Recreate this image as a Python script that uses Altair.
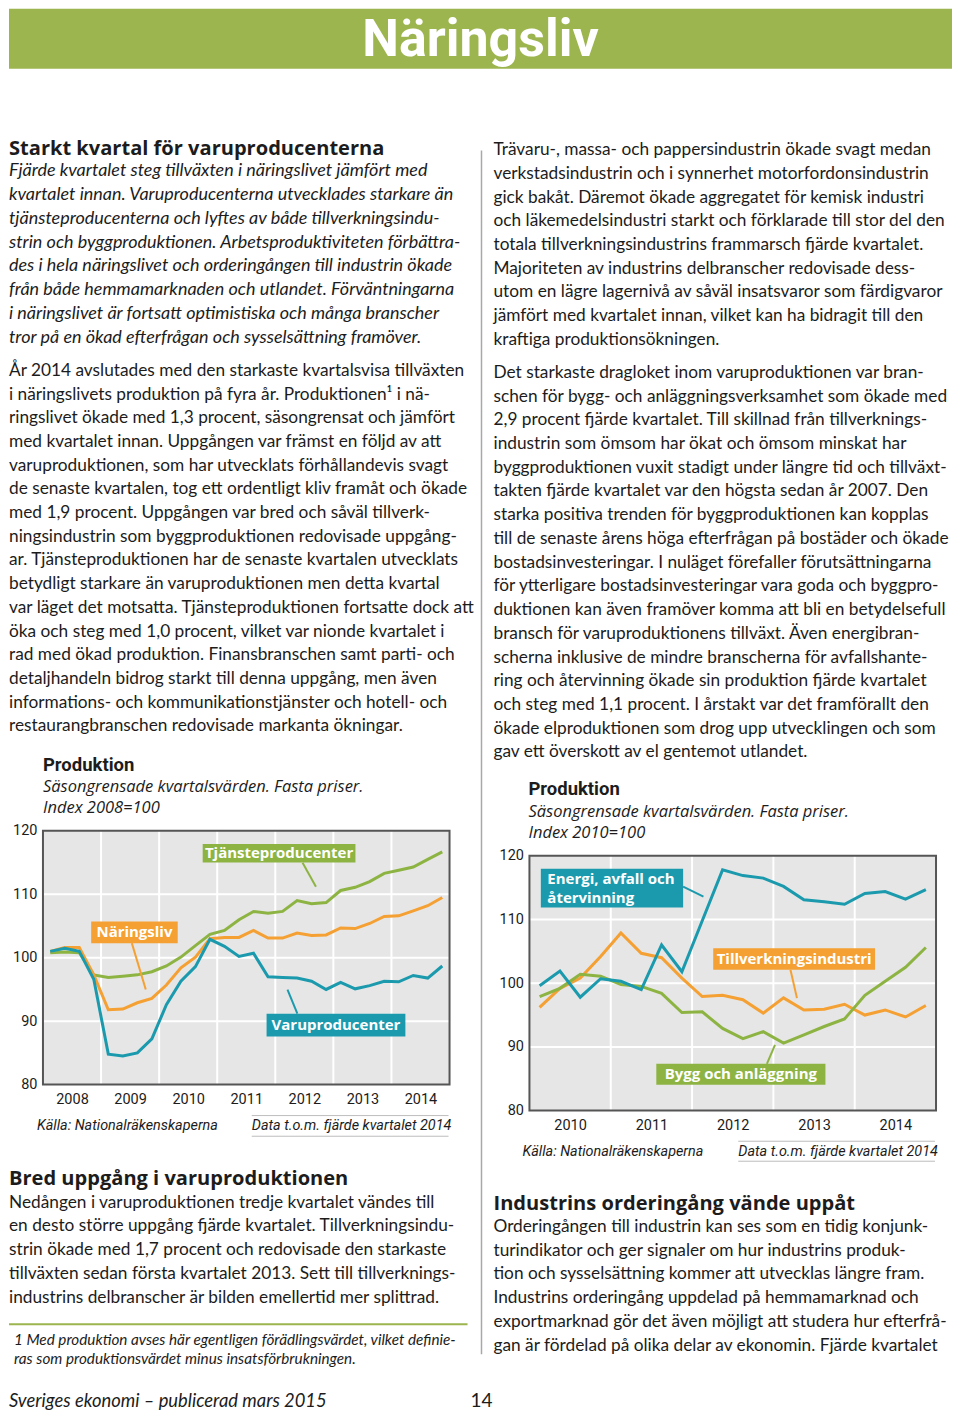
import altair as alt
import pandas as pd

# ---------------- data ----------------
years_a = [2008, 2009, 2010, 2011, 2012, 2013, 2014]
years_b = [2010, 2011, 2012, 2013, 2014]
quarters = [1, 2, 3, 4]
index_ticks = [80, 90, 100, 110, 120]

# Chart 1: Index 2008=100, quarterly 2008K1-2014K4
varuproducenter = [101.0, 101.5, 101.0, 96.6, 84.8, 84.5, 85.0, 87.2, 92.6, 96.3, 98.6, 102.9,
                   101.8, 100.2, 100.7, 97.0, 96.9, 96.8, 96.3, 95.0, 96.1, 95.1, 95.6, 96.3,
                   96.2, 97.2, 96.8, 98.7]
naringsliv = [101.0, 101.6, 101.6, 97.3, 91.8, 91.9, 92.9, 93.6, 95.7, 98.4, 100.1, 103.0,
              103.2, 103.2, 104.3, 103.1, 103.1, 103.9, 103.5, 103.6, 104.7, 104.6, 105.4, 106.5,
              106.6, 107.4, 108.2, 109.5]
tjansteproducenter = [100.8, 100.9, 100.8, 97.3, 96.9, 97.1, 97.3, 97.8, 98.7, 100.1, 101.9, 103.7,
                      104.3, 106.0, 107.3, 107.0, 107.3, 109.0, 108.5, 108.7, 110.6, 111.1, 112.0, 113.3,
                      113.8, 114.3, 115.5, 116.7]

# Chart 2: Index 2010=100, quarterly 2010K1-2014K4
energi = [99.6, 101.9, 97.8, 100.7, 100.3, 99.0, 106.0, 101.8, 109.8, 117.8, 116.9, 116.5,
          115.2, 113.1, 112.8, 112.4, 114.1, 114.4, 113.2, 114.7]
tillverkning = [96.2, 99.2, 100.8, 104.2, 107.9, 104.7, 104.0, 100.8, 97.9, 98.1, 97.4, 95.3,
                97.7, 95.8, 95.9, 96.7, 95.0, 95.8, 94.7, 96.5]
bygg = [97.9, 99.2, 101.4, 101.1, 99.8, 99.5, 98.4, 95.4, 95.5, 92.9, 91.3, 92.4,
        90.6, 91.9, 93.2, 94.4, 98.1, 100.3, 102.5, 105.6]

# ---------------- texts ----------------
page_title = "Näringsliv"
heading_1 = "Starkt kvartal för varuproducenterna"
intro_lines = [
    "Fjärde kvartalet steg tillväxten i näringslivet jämfört med",
    "kvartalet innan. Varuproducenterna utvecklades starkare än",
    "tjänsteproducenterna och lyftes av både tillverkningsindu-",
    "strin och byggproduktionen. Arbetsproduktiviteten förbättra-",
    "des i hela näringslivet och orderingången till industrin ökade",
    "från både hemmamarknaden och utlandet. Förväntningarna",
    "i näringslivet är fortsatt optimistiska och många branscher",
    "tror på en ökad efterfrågan och sysselsättning framöver.",
]
body_left_1 = [
    "År 2014 avslutades med den starkaste kvartalsvisa tillväxten",
    "i näringslivets produktion på fyra år. Produktionen¹ i nä-",
    "ringslivet ökade med 1,3 procent, säsongrensat och jämfört",
    "med kvartalet innan. Uppgången var främst en följd av att",
    "varuproduktionen, som har utvecklats förhållandevis svagt",
    "de senaste kvartalen, tog ett ordentligt kliv framåt och ökade",
    "med 1,9 procent. Uppgången var bred och såväl tillverk-",
    "ningsindustrin som byggproduktionen redovisade uppgång-",
    "ar. Tjänsteproduktionen har de senaste kvartalen utvecklats",
    "betydligt starkare än varuproduktionen men detta kvartal",
    "var läget det motsatta. Tjänsteproduktionen fortsatte dock att",
    "öka och steg med 1,0 procent, vilket var nionde kvartalet i",
    "rad med ökad produktion. Finansbranschen samt parti- och",
    "detaljhandeln bidrog starkt till denna uppgång, men även",
    "informations- och kommunikationstjänster och hotell- och",
    "restaurangbranschen redovisade markanta ökningar.",
]
heading_2 = "Bred uppgång i varuproduktionen"
body_left_2 = [
    "Nedången i varuproduktionen tredje kvartalet vändes till",
    "en desto större uppgång fjärde kvartalet. Tillverkningsindu-",
    "strin ökade med 1,7 procent och redovisade den starkaste",
    "tillväxten sedan första kvartalet 2013. Sett till tillverknings-",
    "industrins delbranscher är bilden emellertid mer splittrad.",
]
footnote_lines = [
    "1  Med produktion avses här egentligen förädlingsvärdet, vilket definie-",
    "ras som produktionsvärdet minus insatsförbrukningen.",
]
footer_left = "Sveriges ekonomi – publicerad mars 2015"
footer_page = "14"
body_right_1 = [
    "Trävaru-, massa- och pappersindustrin ökade svagt medan",
    "verkstadsindustrin och i synnerhet motorfordonsindustrin",
    "gick bakåt. Däremot ökade aggregatet för kemisk industri",
    "och läkemedelsindustri starkt och förklarade till stor del den",
    "totala tillverkningsindustrins frammarsch fjärde kvartalet.",
    "Majoriteten av industrins delbranscher redovisade dess-",
    "utom en lägre lagernivå av såväl insatsvaror som färdigvaror",
    "jämfört med kvartalet innan, vilket kan ha bidragit till den",
    "kraftiga produktionsökningen.",
]
body_right_2 = [
    "Det starkaste dragloket inom varuproduktionen var bran-",
    "schen för bygg- och anläggningsverksamhet som ökade med",
    "2,9 procent fjärde kvartalet. Till skillnad från tillverknings-",
    "industrin som ömsom har ökat och ömsom minskat har",
    "byggproduktionen vuxit stadigt under längre tid och tillväxt-",
    "takten fjärde kvartalet var den högsta sedan år 2007. Den",
    "starka positiva trenden för byggproduktionen kan kopplas",
    "till de senaste årens höga efterfrågan på bostäder och ökade",
    "bostadsinvesteringar. I nuläget förefaller förutsättningarna",
    "för ytterligare bostadsinvesteringar vara goda och byggpro-",
    "duktionen kan även framöver komma att bli en betydelsefull",
    "bransch för varuproduktionens tillväxt. Även energibran-",
    "scherna inklusive de mindre branscherna för avfallshante-",
    "ring och återvinning ökade sin produktion fjärde kvartalet",
    "och steg med 1,1 procent. I årstakt var det framförallt den",
    "ökade elproduktionen som drog upp utvecklingen och som",
    "gav ett överskott av el gentemot utlandet.",
]
heading_3 = "Industrins orderingång vände uppåt"
body_right_3 = [
    "Orderingången till industrin kan ses som en tidig konjunk-",
    "turindikator och ger signaler om hur industrins produk-",
    "tion och sysselsättning kommer att utvecklas längre fram.",
    "Industrins orderingång uppdelad på hemmamarknad och",
    "exportmarknad gör det även möjligt att studera hur efterfrå-",
    "gan är fördelad på olika delar av ekonomin. Fjärde kvartalet",
]
chart_title = "Produktion"
chart1_sub = ["Säsongrensade kvartalsvärden. Fasta priser.", "Index 2008=100"]
chart2_sub = ["Säsongrensade kvartalsvärden. Fasta priser.", "Index 2010=100"]
source_text = "Källa: Nationalräkenskaperna"
data_text = "Data t.o.m. fjärde kvartalet 2014"

# ---------------- style ----------------
TEAL = "#1b9aae"
ORANGE = "#f5a033"
GREEN = "#8db443"
HEAD_GREEN = "#9cb54e"
PLOT_BG = "#e6e6e6"
FRAME = "#555555"
INK = "#1c1c1c"
DIV = "#a8a8a8"
BODY = "Lato"
SANS = "Roboto"
HEAD = "Open Sans"
BODY_SIZE = 17.3
ITAL_SIZE = 18
HEAD_SIZE = 20.1
LH = 23.78
PAGE_W, PAGE_H = 944, 1402

dummy = pd.DataFrame({"a": [0]})


def text_block(lines, x, y, size, font=BODY, weight="normal", style="normal",
               color=INK, lh=LH, align="left"):
    if isinstance(lines, str):
        lines = [lines]
    return alt.Chart(dummy).mark_text(
        text=list(lines), font=font, fontSize=size, fontWeight=weight,
        fontStyle=style, color=color, align=align, baseline="alphabetic",
        lineHeight=lh,
    ).encode(x=alt.value(x), y=alt.value(y))


def rect(x1, x2, y1, y2, color):
    return alt.Chart(dummy).mark_rect(color=color).encode(
        x=alt.value(x1), x2=alt.value(x2), y=alt.value(y1), y2=alt.value(y2))


def rule(x1, x2, y1, y2, color, w=1.0):
    return alt.Chart(dummy).mark_rule(color=color, strokeWidth=w).encode(
        x=alt.value(x1), x2=alt.value(x2), y=alt.value(y1), y2=alt.value(y2))


def line_chart(years, series, notes, xr, yr):
    """xr/yr: pixel extent (left, right) / (top, bottom) of the plot area."""
    x0, x1 = years[0], years[-1] + 1
    y0, y1 = index_ticks[0], index_ticks[-1]
    xs = alt.Scale(domain=[x0, x1], range=[xr[0], xr[1]], nice=False, zero=False)
    ys = alt.Scale(domain=[y0, y1], range=[yr[1], yr[0]], nice=False, zero=False)
    xax = alt.Axis(orient="bottom", offset=yr[1] - PAGE_H,
                   values=[y + 0.5 for y in years], labelExpr="floor(datum.value)",
                   ticks=False, grid=False, domain=False, title=None, labelPadding=8,
                   labelFont=SANS, labelFontSize=14.5, labelColor=INK,
                   labelFlush=False, labelOverlap=False)
    yax = alt.Axis(orient="left", offset=-xr[0], values=index_ticks, grid=False,
                   ticks=False, domain=False, title=None, labelPadding=6,
                   labelFont=SANS, labelFontSize=14.5, labelColor=INK,
                   labelFlush=False, labelOverlap=False)

    def X(f):
        return alt.X(f, type="quantitative", scale=xs, axis=xax)

    def Y(f):
        return alt.Y(f, type="quantitative", scale=ys, axis=yax)

    frame = pd.DataFrame({"x": [x0], "x2": [x1], "y": [y0], "y2": [y1]})
    layers = [alt.Chart(frame).mark_rect(color=PLOT_BG).encode(
        x=X("x"), x2="x2", y=Y("y"), y2="y2")]
    hgrid = pd.DataFrame({"v": index_ticks[1:-1], "a": x0, "b": x1})
    layers.append(alt.Chart(hgrid).mark_rule(color="white", strokeWidth=2).encode(
        x=X("a"), x2="b", y=Y("v")))
    vgrid = pd.DataFrame({"g": years[1:], "a": y0, "b": y1})
    layers.append(alt.Chart(vgrid).mark_rule(color="white", strokeWidth=2).encode(
        x=X("g"), y=Y("a"), y2="b"))
    layers.append(alt.Chart(frame).mark_rect(fillOpacity=0, stroke=FRAME, strokeWidth=2).encode(
        x=X("x"), x2="x2", y=Y("y"), y2="y2"))
    xq = [y + (q - 0.5) / 4 for y in years for q in quarters]
    for vals, color in series:
        df = pd.DataFrame({"t": xq, "v": vals})
        layers.append(alt.Chart(df).mark_line(color=color, strokeWidth=3).encode(
            x=X("t"), y=Y("v")))
    for n in notes:
        bx1, bx2, by1, by2 = n["box"]
        px1, py1, px2, py2 = n["ptr"]
        pdf = pd.DataFrame({"x": [px1], "x2": [px2], "y": [py1], "y2": [py2]})
        layers.append(alt.Chart(pdf).mark_rule(color=n["color"], strokeWidth=2).encode(
            x=X("x"), x2="x2", y=Y("y"), y2="y2"))
        rdf = pd.DataFrame({"x": [bx1], "x2": [bx2], "y": [by1], "y2": [by2]})
        layers.append(alt.Chart(rdf).mark_rect(color=n["color"]).encode(
            x=X("x"), x2="x2", y=Y("y"), y2="y2"))
        k = len(n["lines"])
        step = (by2 - by1) / k
        if n.get("align", "center") == "left":
            tx = bx1 + n["pad"]
            al = "left"
        else:
            tx = (bx1 + bx2) / 2
            al = "center"
        tdf = pd.DataFrame({"x": [tx] * k,
                            "y": [by2 - (i + 0.5) * step for i in range(k)],
                            "s": n["lines"]})
        layers.append(alt.Chart(tdf).mark_text(
            font=HEAD, fontWeight="bold", fontSize=15, color="white", align=al,
            baseline="middle").encode(x=X("x"), y=Y("y"), text="s:N"))
    return alt.layer(*layers)


notes_1 = [
    dict(lines=["Tjänsteproducenter"], color=GREEN,
         box=(2010.75, 2013.38, 115.0, 117.95), ptr=(2012.47, 114.96, 2012.70, 111.2)),
    dict(lines=["Näringsliv"], color=ORANGE,
         box=(2008.83, 2010.32, 102.3, 105.7), ptr=(2009.53, 102.3, 2009.77, 95.0)),
    dict(lines=["Varuproducenter"], color=TEAL,
         box=(2011.85, 2014.24, 87.6, 91.18), ptr=(2012.21, 94.96, 2012.38, 91.18)),
]
notes_2 = [
    dict(lines=["Energi, avfall och", "återvinning"], color=TEAL, align="left", pad=0.08,
         box=(2010.14, 2011.89, 111.88, 117.96), ptr=(2011.89, 115.18, 2012.14, 113.6)),
    dict(lines=["Tillverkningsindustri"], color=ORANGE,
         box=(2012.26, 2014.25, 102.1, 105.5), ptr=(2013.21, 102.1, 2013.29, 97.66)),
    dict(lines=["Bygg och anläggning"], color=GREEN,
         box=(2011.56, 2013.64, 84.05, 87.35), ptr=(2013.02, 90.33, 2012.92, 87.35)),
]

# plot areas in chart pixels (page pixel - 8)
chart1 = line_chart(years_a, [(tjansteproducenter, GREEN), (naringsliv, ORANGE),
                              (varuproducenter, TEAL)], notes_1, (34, 441), (823, 1077))
chart2 = line_chart(years_b, [(tillverkning, ORANGE), (bygg, GREEN), (energi, TEAL)],
                    notes_2, (521, 928), (848, 1103))

page = alt.layer(
    rect(0, 944, 0, 60, HEAD_GREEN),
    text_block(page_title, 472, 47, 52, font=SANS, weight="bold", color="white", align="center"),
    rule(473, 473, 142, 1347, DIV, 1.5),
    # left column
    text_block(heading_1, 0, 146, HEAD_SIZE, font=HEAD, weight="bold"),
    text_block(intro_lines, 0, 167.5, ITAL_SIZE, style="italic", lh=23.86),
    text_block(body_left_1, 0, 367.5, BODY_SIZE, lh=23.73),
    text_block(chart_title, 34, 763, 18.5, font=SANS, weight="bold"),
    text_block(chart1_sub, 34, 783.7, 16.5, font=HEAD, style="italic", lh=21.3),
    text_block(source_text, 28, 1122, 14.4, font=SANS, style="italic"),
    rule(243, 440, 1108, 1108, "#bdbdbd", 1),
    rule(243, 440, 1128.7, 1128.7, "#bdbdbd", 1),
    text_block(data_text, 243, 1122, 14.4, font=SANS, style="italic"),
    text_block(heading_2, 0, 1178, HEAD_SIZE, font=HEAD, weight="bold"),
    text_block(body_left_2, 0, 1200.3, BODY_SIZE, lh=23.75),
    rule(0, 459, 1317, 1317, HEAD_GREEN, 2),
    text_block(footnote_lines, 5, 1338, 15.3, style="italic", lh=18.5),
    text_block(footer_left, 0, 1399.3, 18.4, style="italic"),
    text_block(footer_page, 473, 1399.3, 19, align="center"),
    # right column
    text_block(body_right_1, 485, 146.5, BODY_SIZE, lh=23.75),
    text_block(body_right_2, 485, 369.5, BODY_SIZE, lh=23.75),
    text_block(chart_title, 520, 787, 18.5, font=SANS, weight="bold"),
    text_block(chart2_sub, 520, 808.7, 16.5, font=HEAD, style="italic", lh=21.3),
    text_block(source_text, 514, 1148.7, 14.4, font=SANS, style="italic"),
    rule(730, 927, 1133.7, 1133.7, "#bdbdbd", 1),
    rule(730, 927, 1153.7, 1153.7, "#bdbdbd", 1),
    text_block(data_text, 730, 1148.7, 14.4, font=SANS, style="italic"),
    text_block(heading_3, 485, 1203, HEAD_SIZE, font=HEAD, weight="bold"),
    text_block(body_right_3, 485, 1224.5, BODY_SIZE, lh=23.8),
)

chart = alt.layer(page, chart1, chart2).resolve_scale(
    x="independent", y="independent"
).properties(width=PAGE_W, height=PAGE_H, padding=0).configure_view(stroke=None)

chart.save("out.html", embed_options={"renderer": "svg", "actions": False})
